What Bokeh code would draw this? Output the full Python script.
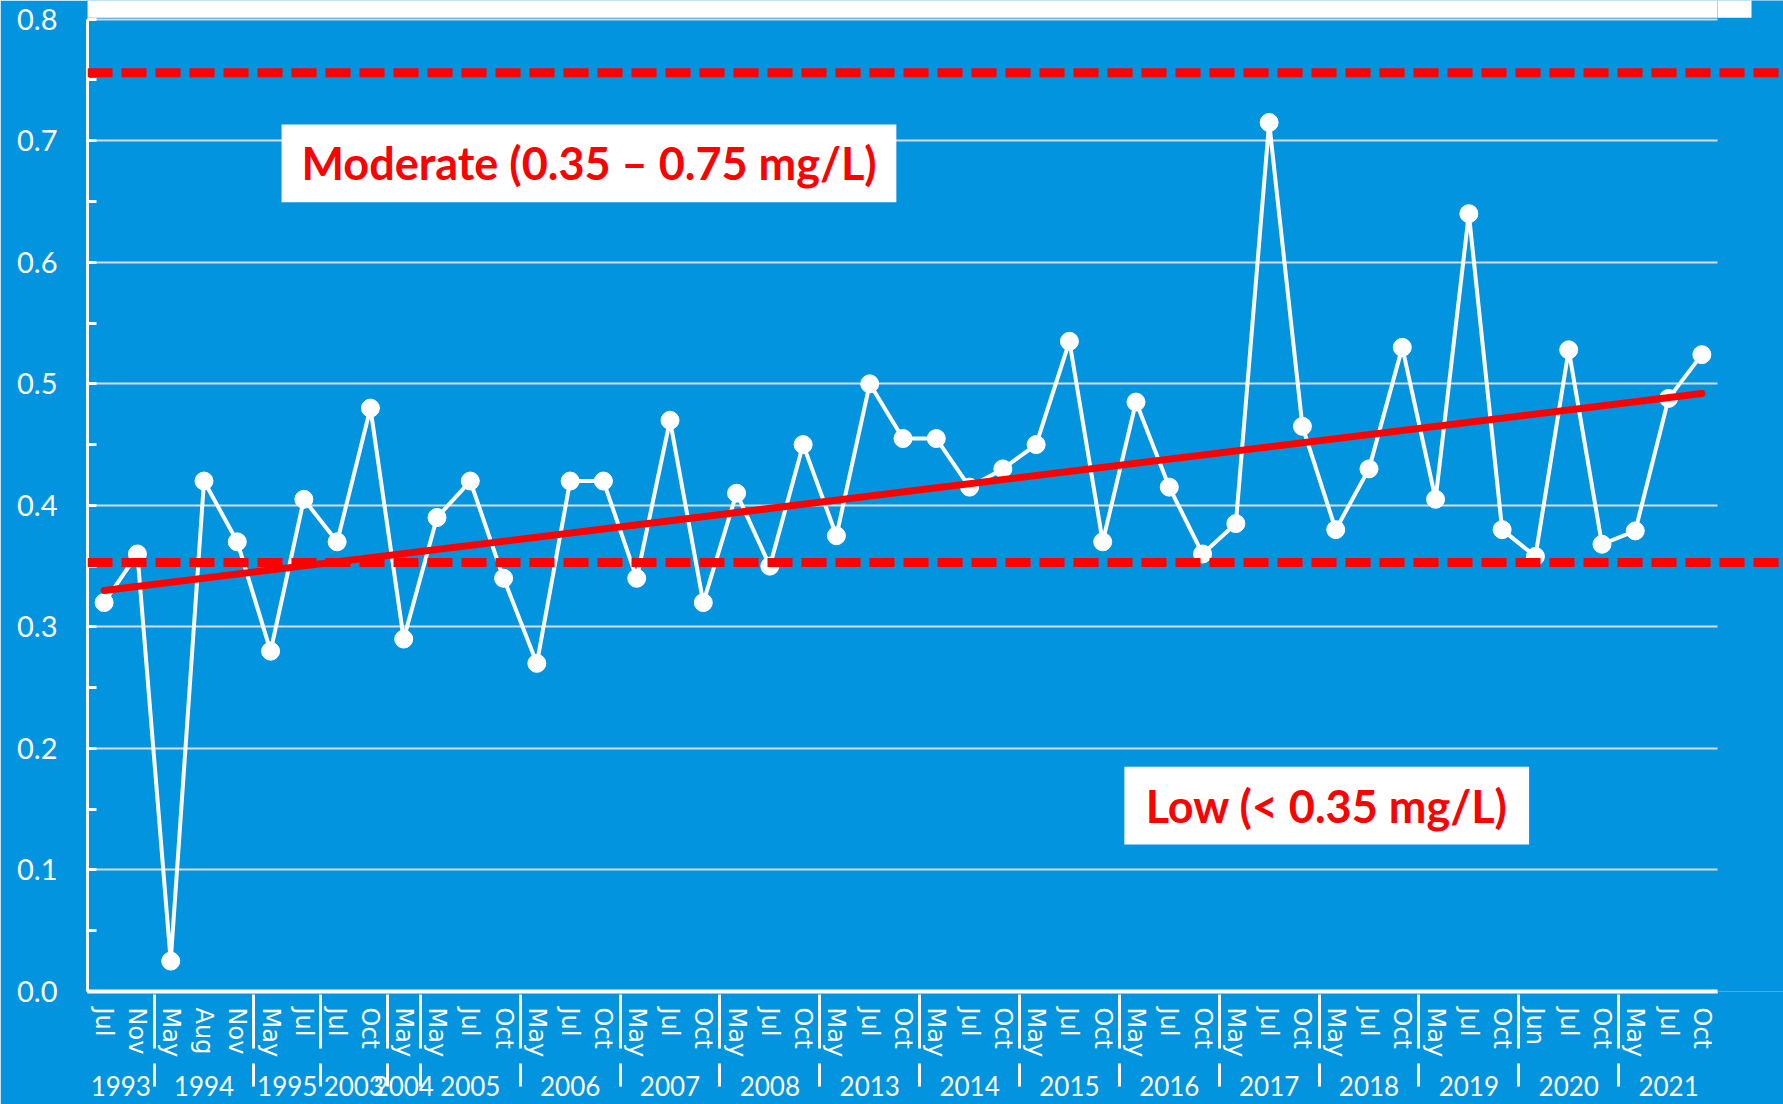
from bokeh.plotting import figure
from bokeh.models import (FactorRange, Range1d, Span, BoxAnnotation, Label,
                          FixedTicker, PrintfTickFormatter, CategoricalAxis, Row)
from bokeh.embed import file_html
from bokeh.resources import INLINE

# ---------------- data ----------------
years = ["1993", "1993",
         "1994", "1994", "1994",
         "1995", "1995",
         "2003", "2003",
         "2004",
         "2005", "2005", "2005",
         "2006", "2006", "2006",
         "2007", "2007", "2007",
         "2008", "2008", "2008",
         "2013", "2013", "2013",
         "2014", "2014", "2014",
         "2015", "2015", "2015",
         "2016", "2016", "2016",
         "2017", "2017", "2017",
         "2018", "2018", "2018",
         "2019", "2019", "2019",
         "2020", "2020", "2020",
         "2021", "2021", "2021"]
months = ["Jul", "Nov",
          "May", "Aug", "Nov",
          "May", "Jul",
          "Jul", "Oct",
          "May",
          "May", "Jul", "Oct",
          "May", "Jul", "Oct",
          "May", "Jul", "Oct",
          "May", "Jul", "Oct",
          "May", "Jul", "Oct",
          "May", "Jul", "Oct",
          "May", "Jul", "Oct",
          "May", "Jul", "Oct",
          "May", "Jul", "Oct",
          "May", "Jul", "Oct",
          "May", "Jul", "Oct",
          "Jun", "Jul", "Oct",
          "May", "Jul", "Oct"]
fluoride = [0.320, 0.360,
            0.025, 0.420, 0.370,
            0.280, 0.405,
            0.370, 0.480,
            0.290,
            0.390, 0.420, 0.340,
            0.270, 0.420, 0.420,
            0.340, 0.470, 0.320,
            0.410, 0.350, 0.450,
            0.375, 0.500, 0.455,
            0.455, 0.415, 0.430,
            0.450, 0.535, 0.370,
            0.485, 0.415, 0.360,
            0.385, 0.715, 0.465,
            0.380, 0.430, 0.530,
            0.405, 0.640, 0.380,
            0.358, 0.528, 0.368,
            0.379, 0.488, 0.524]
trend_values = [0.330, 0.492]          # trend line value at first and last sample
low_limit = 0.353                      # lower dashed line as drawn
moderate_limit = 0.756                 # upper dashed line as drawn
y_ticks = [0.0, 0.1, 0.2, 0.3, 0.4, 0.5, 0.6, 0.7, 0.8]
y_minor_ticks = [0.05, 0.15, 0.25, 0.35, 0.45, 0.55, 0.65, 0.75]
moderate_text = "Moderate (0.35 \u2013 0.75 mg/L)"
low_text = "Low (< 0.35 mg/L)"

# ---------------- styling ----------------
BLUE = "#0394E0"
RED = "#FF0000"
FONT = "Lato"
MONTH_FONT = "DejaVu Sans"
Y_TOP = 0.8154          # top of frame (leaves room for the cropped title band)
DASH = "25 9"

factors = list(zip(years, months))
y_range = Range1d(0, Y_TOP)

p = figure(x_range=FactorRange(*factors, factor_padding=0, group_padding=0,
                               subgroup_padding=0),
           y_range=y_range,
           width=1718, height=1104,
           output_backend="svg", toolbar_location=None,
           background_fill_color=BLUE, border_fill_color=BLUE,
           outline_line_color=None,
           min_border_left=87, min_border_right=0,
           min_border_top=0, min_border_bottom=113)

# white band of the cropped title box
p.add_layout(BoxAnnotation(bottom=0.8012, top=Y_TOP + 0.01, fill_color="white",
                           fill_alpha=1, line_color=None))

# data series
p.line(x=factors, y=fluoride, line_color="white", line_width=4)
p.scatter(x=factors, y=fluoride, size=18, fill_color="white",
          line_color="white", marker="circle")

# trend line
p.line(x=[factors[0], factors[-1]], y=trend_values, line_color=RED,
       line_width=7, line_cap="round")

# dashed threshold lines
for lim in (moderate_limit, low_limit):
    p.add_layout(Span(location=lim, dimension="width", line_color=RED,
                      line_width=9, line_dash=DASH))

# label boxes
p.add_layout(BoxAnnotation(left=5.83, right=24.30, top=0.7133, bottom=0.6494,
                           fill_color="white", fill_alpha=1, line_color=None))
p.add_layout(Label(x=15.07, y=0.6814, text=moderate_text, text_align="center",
                   text_baseline="middle", text_color=RED, text_font=FONT,
                   text_font_style="bold", text_font_size="45px"))
p.add_layout(BoxAnnotation(left=31.15, right=43.31, top=0.1849, bottom=0.1209,
                           fill_color="white", fill_alpha=1, line_color=None))
p.add_layout(Label(x=37.23, y=0.1529, text=low_text, text_align="center",
                   text_baseline="middle", text_color=RED, text_font=FONT,
                   text_font_style="bold", text_font_size="45px"))

# grid
p.xgrid.visible = False
p.ygrid.grid_line_color = "#DADADA"
p.ygrid.grid_line_width = 2

# y axis
ya = p.yaxis[0]
ya.ticker = FixedTicker(ticks=y_ticks, minor_ticks=y_minor_ticks)
ya.formatter = PrintfTickFormatter(format="%.1f")
ya.bounds = (0, 0.8)
ya.axis_line_color = "white"
ya.axis_line_width = 3
ya.major_tick_line_color = "white"
ya.major_tick_line_width = 3
ya.major_tick_in = 9
ya.major_tick_out = 0
ya.minor_tick_line_color = "white"
ya.minor_tick_line_width = 3
ya.minor_tick_in = 9
ya.minor_tick_out = 0
ya.major_label_text_color = "white"
ya.major_label_text_font = FONT
ya.major_label_text_font_size = "29px"
ya.major_label_standoff = 30

# x axis: months (years hidden on this axis)
xa = p.xaxis[0]
xa.axis_line_color = "white"
xa.axis_line_width = 4
xa.major_tick_line_color = None
xa.minor_tick_line_color = None
xa.major_label_orientation = "vertical"
xa.major_label_text_color = "white"
xa.major_label_text_font = MONTH_FONT
xa.major_label_text_font_size = "24px"
xa.major_label_standoff = 10
xa.group_text_color = None
xa.group_text_font_size = "1px"
xa.separator_line_color = "white"
xa.separator_line_width = 3

# second categorical axis on the same range: years
xa2 = CategoricalAxis(axis_line_color=None, major_tick_line_color=None,
                      minor_tick_line_color=None,
                      major_label_text_color=None,
                      major_label_text_font_size="1px",
                      major_label_standoff=9,
                      group_text_color="white", group_text_font=FONT,
                      group_text_font_size="26px",
                      group_text_font_style="normal",
                      separator_line_color="white", separator_line_width=3)
p.add_layout(xa2, "below")

# narrow companion panel: the dashed lines run on past the plot area
p2 = figure(x_range=Range1d(0, 66), y_range=y_range, width=66, height=1104,
            output_backend="svg", toolbar_location=None,
            x_axis_location=None, y_axis_location=None,
            background_fill_color=BLUE, border_fill_color=BLUE,
            outline_line_color=None,
            min_border_left=0, min_border_right=0,
            min_border_top=0, min_border_bottom=113,
            margin=(0, 0, 0, -1))
p2.grid.visible = False
p2.add_layout(BoxAnnotation(bottom=0.8012, top=Y_TOP + 0.01, left=0, right=34,
                            fill_color="white", fill_alpha=1, line_color=None))
for lim in (moderate_limit, low_limit):
    p2.add_layout(Span(location=lim, dimension="width", line_color=RED,
                       line_width=9, line_dash=DASH, line_dash_offset=32))

layout = Row(children=[p, p2], spacing=0)
open("out.html", "w").write(file_html(layout, INLINE))
